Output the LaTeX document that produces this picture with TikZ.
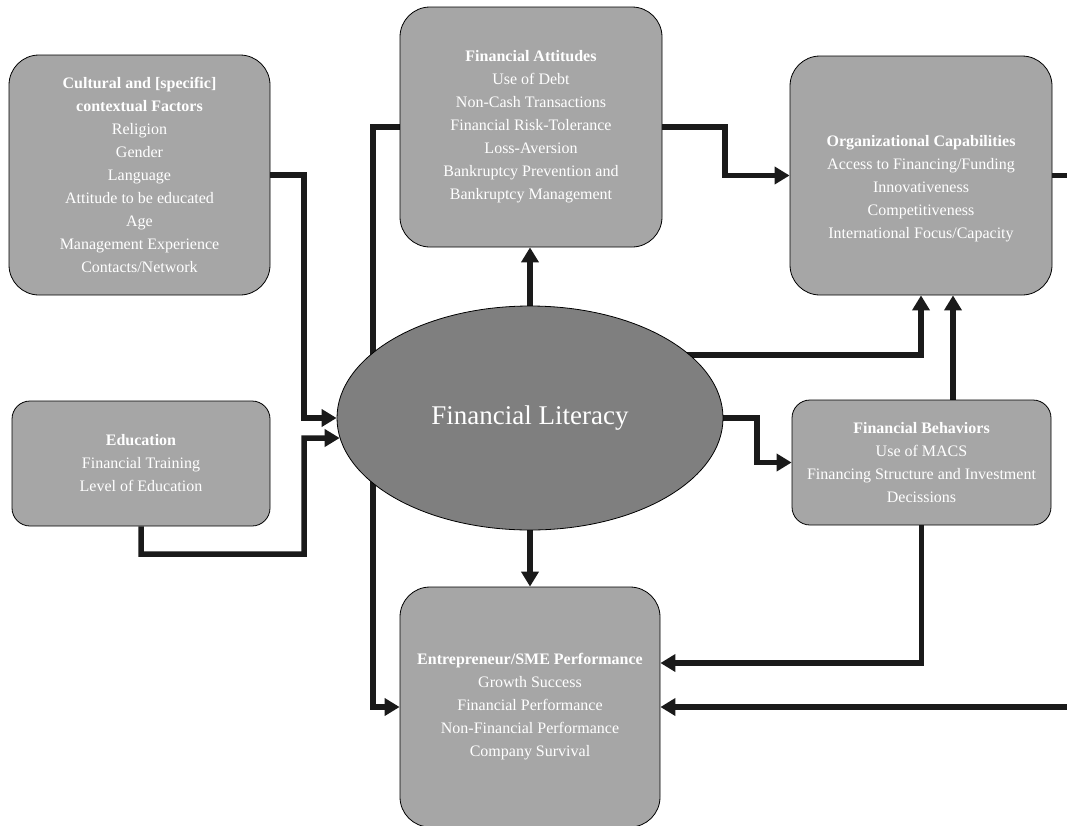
\documentclass[tikz,border=0pt]{standalone}
\usepackage{fontspec}
\setmainfont{Liberation Serif}
\usetikzlibrary{arrows.meta,shapes.geometric,calc}
\pgfdeclarelayer{background}
\pgfsetlayers{background,main}
\definecolor{boxgray}{HTML}{A6A6A6}
\definecolor{litgray}{HTML}{7F7F7F}
\definecolor{linedark}{HTML}{1A1A1A}

\begin{document}
\begin{tikzpicture}[x=1pt,y=-1pt,
  factor/.style={draw=black, line width=0.8pt, fill=boxgray, rounded corners=#1,
    text=white, align=center, font=\fontsize{16}{23}\selectfont, inner sep=0pt},
  factor/.default=30pt,
  boxtext/.style={text=white, align=center, font=\fontsize{16}{23}\selectfont, inner sep=0pt},
  core/.style={ellipse, draw=black, line width=0.8pt, fill=litgray, inner sep=0pt,
    text=white, font=\fontsize{27}{30}\selectfont},
  conn/.style={draw=linedark, line width=5.5pt, line join=miter,
    -{Triangle[length=15pt,width=17pt]}}
]
\useasboundingbox (0,0) rectangle (1067,825);
\clip (0,0) rectangle (1067,825);

% factor boxes
\node[factor, minimum width=261pt, minimum height=240pt] (cult) at (139.5,175)
  {\textbf{Cultural and [specific]}\\\textbf{contextual Factors}\\Religion\\Gender\\Language\\Attitude to be educated\\Age\\Management Experience\\Contacts/Network};

\node[factor=18pt, minimum width=258pt, minimum height=125pt] (edu) at (141,463.5)
  {\textbf{Education}\\Financial Training\\Level of Education};

\node[factor, minimum width=262pt, minimum height=240pt] (att) at (531,127)
  {\textbf{Financial Attitudes}\\Use of Debt\\Non-Cash Transactions\\Financial Risk-Tolerance\\Loss-Aversion\\Bankruptcy Prevention and\\Bankruptcy Management};

\node[factor, minimum width=262pt, minimum height=239pt] (org) at (921,175.5) {};
\node[boxtext] (orgtext) at ([yshift=-13pt]org.center)
  {\textbf{Organizational Capabilities}\\Access to Financing/Funding\\Innovativeness\\Competitiveness\\International Focus/Capacity};

\node[factor=18pt, minimum width=259pt, minimum height=125pt] (beh) at (921.5,462.5)
  {\textbf{Financial Behaviors}\\Use of MACS\\Financing Structure and Investment\\Decissions};

\node[factor, minimum width=260pt, minimum height=240pt] (perf) at (530,707)
  {\textbf{Entrepreneur/SME Performance}\\Growth Success\\Financial Performance\\Non-Financial Performance\\Company Survival};

% central ellipse
\node[core, minimum width=386pt, minimum height=224pt] (lit) at (530,418) {Financial Literacy};

% connectors, drawn beneath the shapes
\begin{pgfonlayer}{background}
  \draw[conn] (cult.east) -- (304,175) -- (304,418) -- (lit.west);
  \draw[conn] (edu.south) -- (141,554) -- (304,554) -- (304,438) -- (lit.186);
  \draw[conn] (lit.north) -- (lit.north |- att.south);
  \draw[conn] (att.west) -- (373,127) -- (373,707) -- (perf.west);
  \draw[conn] (att.east) -- (725,127) -- (725,175.5) -- (org.west);
  \draw[conn] (lit.center) ++(0,-63) -| (org.south);
  \coordinate (o2) at ([xshift=32pt]org.south);
  \draw[conn] (o2 |- beh.north) -- (o2);
  \draw[conn] (lit.east) -- (757,418) -- (757,462.5) -- (beh.west);
  \coordinate (p1) at ([yshift=44pt]perf.east);
  \draw[conn] (beh.south) |- (p1);
  \draw[conn] (org.east) -- ++(40,0) |- (perf.east);
  \draw[conn] (lit.south) -- (perf.north);
\end{pgfonlayer}
\end{tikzpicture}
\end{document}
